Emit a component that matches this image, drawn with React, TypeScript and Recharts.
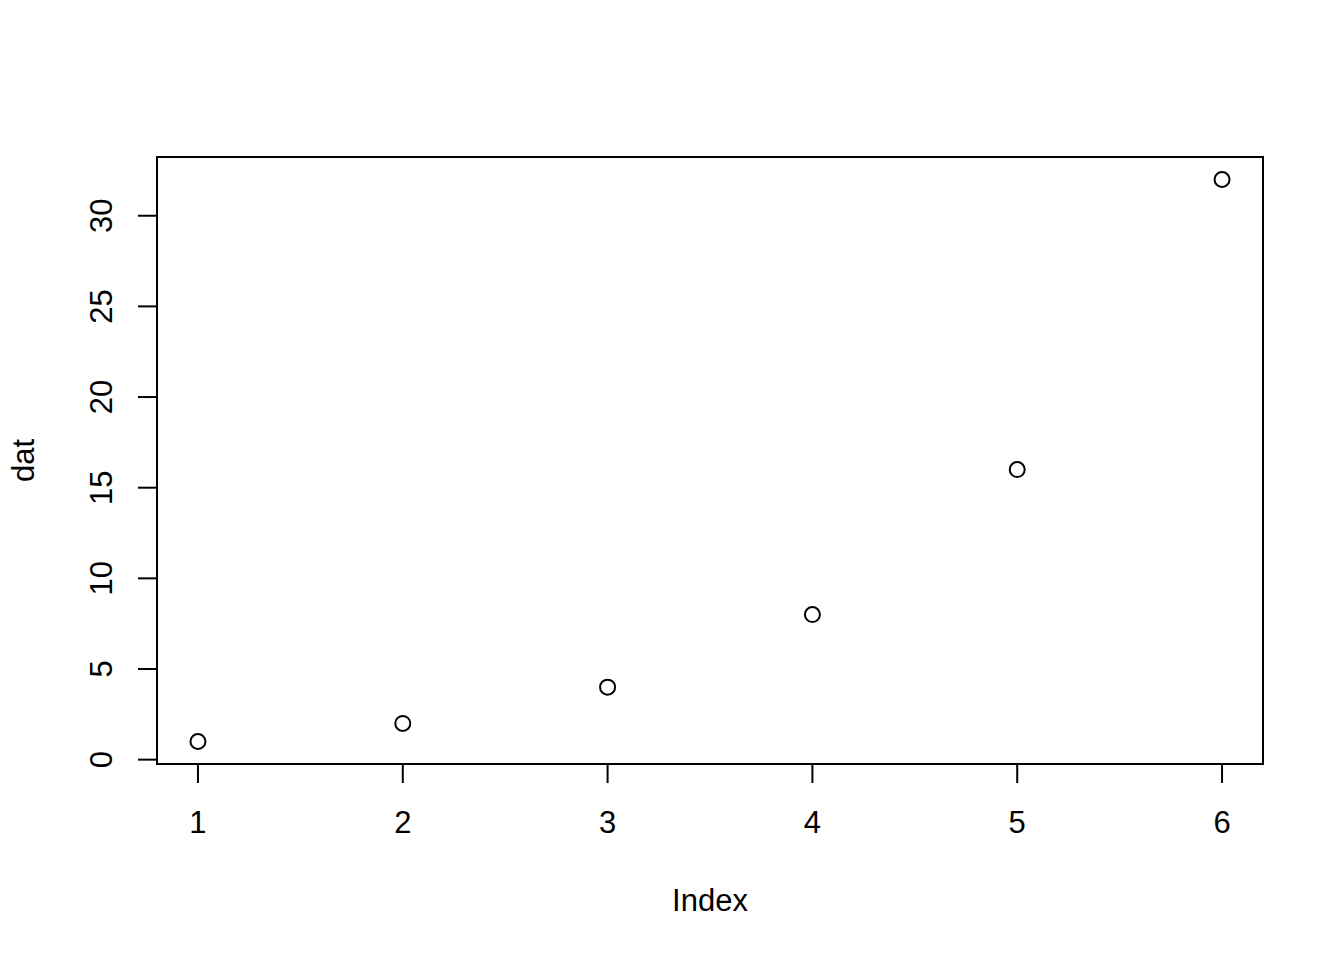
import { ReferenceArea, Scatter, ScatterChart, XAxis, YAxis, Label } from "recharts"

const indexValues = [1, 2, 3, 4, 5, 6]
const datValues = [1, 2, 4, 8, 16, 32]
const xTicks = [1, 2, 3, 4, 5, 6]
const yTicks = [0, 5, 10, 15, 20, 25, 30]

const data = indexValues.map((index, i) => ({ index, dat: datValues[i] }))

const FONT = '"Liberation Sans", Arial, Helvetica, sans-serif'
const FS = 31

// R extends the data range by 4% on each side
const xDomain = [0.8, 6.2]
const yDomain = [1 - 31 * 0.04, 32 + 31 * 0.04]

function XTick(props: any) {
  const { x, payload } = props
  return (
    <text x={x} y={833} textAnchor="middle" fontFamily={FONT} fontSize={FS} fill="#000">
      {payload.value}
    </text>
  )
}

function YTick(props: any) {
  const { y, payload } = props
  return (
    <text
      x={0}
      y={0}
      transform={`translate(111.5, ${y}) rotate(-90)`}
      textAnchor="middle"
      fontFamily={FONT}
      fontSize={FS}
      fill="#000"
    >
      {payload.value}
    </text>
  )
}

function OpenCircle(props: any) {
  return <circle cx={props.cx} cy={props.cy} r={7.5} fill="none" stroke="#000" strokeWidth={2} />
}

export default function App() {
  return (
    <div style={{ position: "absolute", left: 0, top: 0, background: "#fff" }}>
      <ScatterChart
        width={1344}
        height={960}
        margin={{ top: 157, right: 81, bottom: 136, left: 97 }}
      >
        <XAxis
          type="number"
          dataKey="index"
          domain={xDomain}
          ticks={xTicks}
          height={60}
          axisLine={false}
          tickSize={19}
          tickLine={{ stroke: "#000", strokeWidth: 2 }}
          tick={<XTick />}
          interval={0}
        >
          <Label
            content={({ viewBox }: any) => (
              <text
                x={viewBox.x + viewBox.width / 2}
                y={911}
                textAnchor="middle"
                fontFamily={FONT}
                fontSize={FS}
                fill="#000"
              >
                Index
              </text>
            )}
          />
        </XAxis>
        <YAxis
          type="number"
          dataKey="dat"
          domain={yDomain}
          ticks={yTicks}
          width={60}
          axisLine={false}
          tickSize={19}
          tickLine={{ stroke: "#000", strokeWidth: 2 }}
          tick={<YTick />}
          interval={0}
        >
          <Label
            content={({ viewBox }: any) => (
              <text
                x={0}
                y={0}
                transform={`translate(33.5, ${viewBox.y + viewBox.height / 2}) rotate(-90)`}
                textAnchor="middle"
                fontFamily={FONT}
                fontSize={FS}
                fill="#000"
              >
                dat
              </text>
            )}
          />
        </YAxis>
        <ReferenceArea
          x1={xDomain[0]}
          x2={xDomain[1]}
          y1={yDomain[0]}
          y2={yDomain[1]}
          fill="none"
          fillOpacity={0}
          stroke="#000"
          strokeWidth={2}
          ifOverflow="visible"
        />
        <Scatter data={data} shape={<OpenCircle />} isAnimationActive={false} />
      </ScatterChart>
    </div>
  )
}
